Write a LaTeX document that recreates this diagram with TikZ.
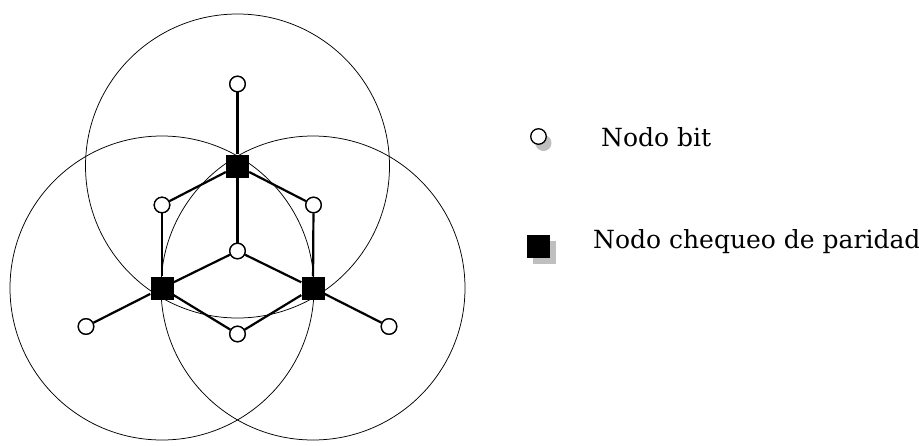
\documentclass[tikz,border=0pt]{standalone}
\usepackage{fontspec}
\setmainfont{DejaVu Serif}
\begin{document}
\begin{tikzpicture}[x=1pt,y=-1pt,
  bitnode/.style={circle,draw,fill=white,line width=1.3pt,minimum size=15.5pt,inner sep=0pt},
  checknode/.style={rectangle,fill=black,minimum size=23pt,inner sep=0pt},
  shadownode/.style={fill=black!25,inner sep=0pt},
  linkline/.style={line width=2.2pt},
  coverring/.style={line width=0.75pt},
  legendtext/.style={anchor=base west,font=\fontsize{25}{30}\selectfont,inner sep=0pt}]
\useasboundingbox (0,0) rectangle (919,445);

% coverage circles around the check nodes
\draw[coverring] (237.5,166) circle (152);
\draw[coverring] (162,288) circle (152);
\draw[coverring] (313,288) circle (152);

% check nodes
\node[checknode] (ct) at (237.5,166) {};
\node[checknode] (cl) at (162,288) {};
\node[checknode] (cr) at (313,288) {};

% bit nodes
\node[bitnode] (bt) at (237.5,84) {};
\node[bitnode] (bc) at (237.5,251) {};
\node[bitnode] (bul) at (162,205) {};
\node[bitnode] (bur) at (313.5,205) {};
\node[bitnode] (bb) at (237.5,334) {};
\node[bitnode] (bfl) at (86,326.5) {};
\node[bitnode] (bfr) at (389,326.5) {};

% connections
\draw[linkline] (ct) -- (bt);
\draw[linkline] (ct) -- (bc);
\draw[linkline] (ct) -- (bul);
\draw[linkline] (ct) -- (bur);
\draw[linkline] (cl) -- (bul);
\draw[linkline] (cl) -- (bc);
\draw[linkline] (cl) -- (bb);
\draw[linkline] (cl) -- (bfl);
\draw[linkline] (cr) -- (bur);
\draw[linkline] (cr) -- (bc);
\draw[linkline] (cr) -- (bb);
\draw[linkline] (cr) -- (bfr);

% redraw nodes on top of the edges
\node[checknode] at (ct) {};
\node[checknode] at (cl) {};
\node[checknode] at (cr) {};
\foreach \n in {bt,bc,bul,bur,bb,bfl,bfr} \node[bitnode] at (\n) {};

% legend
\node[shadownode,circle,minimum size=16pt] (lbs) at (543.5,143) {};
\node[bitnode] (lb) at (538.5,136.5) {};
\node[legendtext] (lbt) at (601,146) {Nodo bit};

\node[shadownode,minimum size=23pt] (lcs) at (544.5,252.5) {};
\node[checknode] (lc) at (538.5,246.5) {};
\node[legendtext] (lct) at (593,248) {Nodo chequeo de paridad};
\end{tikzpicture}
\end{document}
